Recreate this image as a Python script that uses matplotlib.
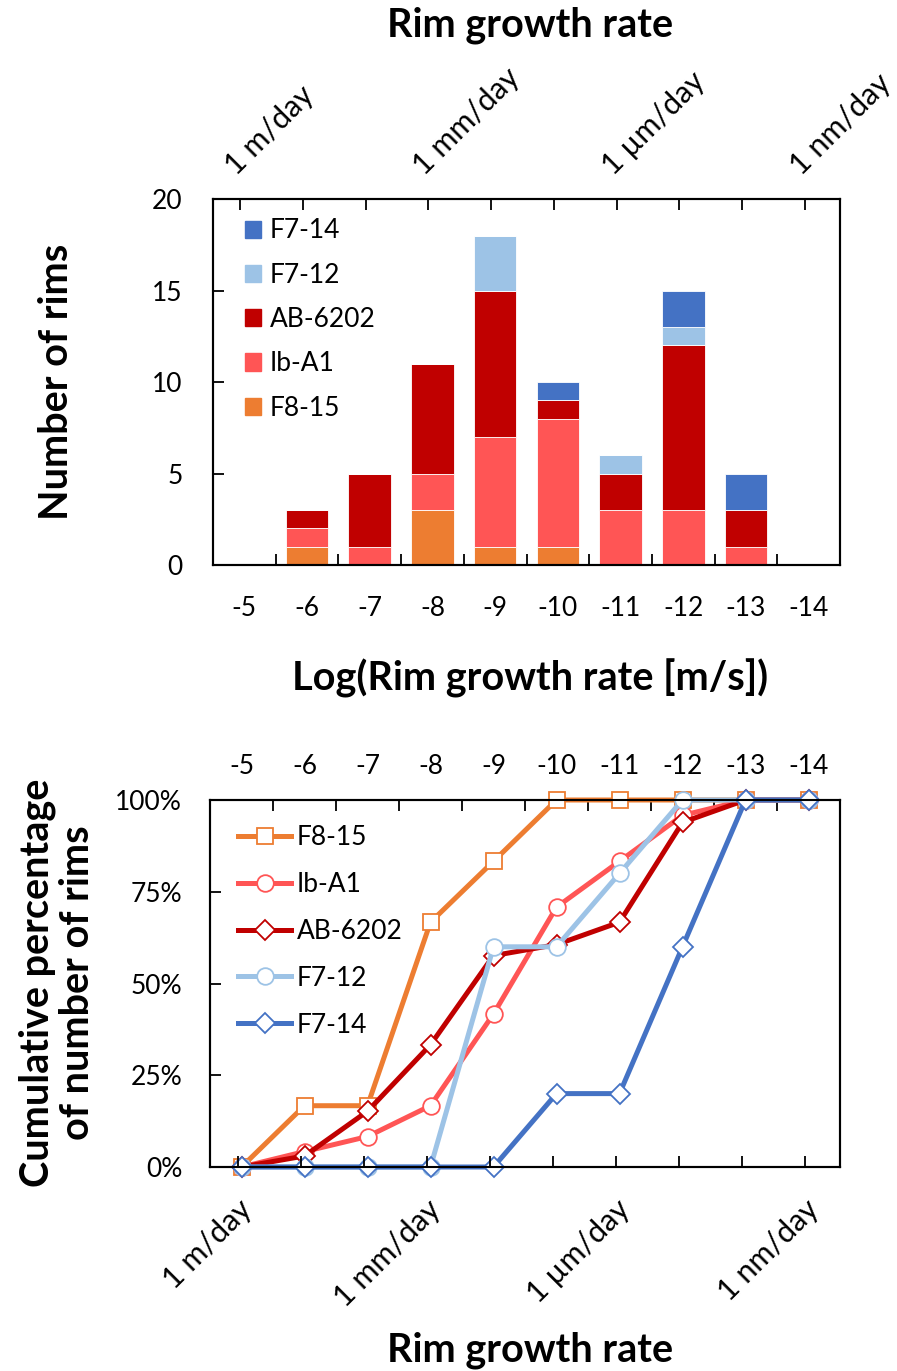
import numpy as np
import matplotlib
matplotlib.use('Agg')
from matplotlib import pyplot as plt
from matplotlib.patches import Patch

plt.rcParams['font.family'] = ['Lato', 'DejaVu Sans']

# categories: log10 of rim growth rate [m/s]
log_rates = ['-5', '-6', '-7', '-8', '-9', '-10', '-11', '-12', '-13', '-14']

# number of rims per bin, per sample (stacked bars)
f8_15 = [0, 1, 0, 3, 1, 1, 0, 0, 0, 0]
ib_a1 = [0, 1, 1, 2, 6, 7, 3, 3, 1, 0]
ab_6202 = [0, 1, 4, 6, 8, 1, 2, 9, 2, 0]
f7_12 = [0, 0, 0, 0, 3, 0, 1, 1, 0, 0]
f7_14 = [0, 0, 0, 0, 0, 1, 0, 2, 2, 0]

# cumulative percentage of number of rims
cum_f8_15 = [0, 16.7, 16.7, 66.7, 83.3, 100, 100, 100, 100, 100]
cum_ib_a1 = [0, 4.2, 8.3, 16.7, 41.7, 70.8, 83.3, 95.8, 100, 100]
cum_ab_6202 = [0, 3.0, 15.2, 33.3, 57.6, 60.6, 66.7, 93.9, 100, 100]
cum_f7_12 = [0, 0, 0, 0, 60, 60, 80, 100, 100, 100]
cum_f7_14 = [0, 0, 0, 0, 0, 20, 20, 60, 100, 100]

# secondary axis: speeds per day
rate_labels = ['1 m/day', '1 mm/day', '1 \u00b5m/day', '1 nm/day']
rate_m_per_day = [1.0, 1e-3, 1e-6, 1e-9]

c_f7_14 = '#4472C4'
c_f7_12 = '#9DC3E6'
c_ab = '#C00000'
c_ib = '#FF5555'
c_f8 = '#ED7D31'

fs = 19
rot_fs = 22
big = 28.5
W, H = 897, 1371
fig = plt.figure(figsize=(W / 100, H / 100), dpi=100)

x = np.arange(len(log_rates))
# category i <-> 10^-(5+i) m/s ; per-day rates placed on that scale, one tick per decade
sec_pos = [-5 - (np.log10(1.0 / 86400) - k) for k in range(10)]
sec_txt = [''] * 10
for v, lab in zip(rate_m_per_day, rate_labels):
    sec_txt[int(round(-np.log10(v)))] = lab


def box(ax):
    for s in ax.spines.values():
        s.set_linewidth(1.5)
        s.set_color('black')


# ---------------- top: stacked bars ----------------
ax = fig.add_axes([213 / W, 1 - 565 / H, 627 / W, 366 / H])
ax2 = ax.twiny()

bottom = np.zeros(len(x))
series = [(f8_15, c_f8, 'F8-15'), (ib_a1, c_ib, 'Ib-A1'), (ab_6202, c_ab, 'AB-6202'),
          (f7_12, c_f7_12, 'F7-12'), (f7_14, c_f7_14, 'F7-14')]
for vals, col, lab in series:
    ax.bar(x, vals, width=0.68, bottom=bottom, color=col, edgecolor='white', linewidth=0.6, label=lab)
    bottom += np.array(vals)
ax.set_xlim(-0.5, 9.5)
ax.set_ylim(0, 20)
ax.set_yticks([0, 5, 10, 15, 20])
ax.set_xticks(x)
ax.set_xticklabels(log_rates)
ax.set_xticks(x[:-1] + 0.5, minor=True)
ax.tick_params(axis='x', which='major', length=0, pad=22, labelsize=fs)
ax.tick_params(axis='x', which='minor', direction='in', length=8, width=1.3)
ax.tick_params(axis='y', direction='in', length=8, width=1.3, pad=22, labelsize=fs)
box(ax)

handles = [Patch(color=col) for _, col, _ in series][::-1]
labels = [lab for _, _, lab in series][::-1]
ax.legend(handles, labels, loc='upper left', frameon=False, fontsize=fs,
          handlelength=0.62, handleheight=0.62, handletextpad=0.35, labelspacing=0.73,
          bbox_to_anchor=(0.025, 0.99), borderaxespad=0.2)

ax2.set_xlim(ax.get_xlim())
ax2.set_xticks(sec_pos)
ax2.set_xticklabels(sec_txt)
ax2.tick_params(axis='x', direction='in', length=8, width=1.3, pad=14, labelsize=rot_fs)
for t in ax2.get_xticklabels():
    t.set_rotation(45)
    t.set_ha('left')
    t.set_va('bottom')
    t.set_rotation_mode('anchor')
box(ax2)

fig.text(530 / W, 1 - 25 / H, 'Rim growth rate', ha='center', va='center', fontsize=big, fontweight='bold')
fig.text(530 / W, 1 - 678 / H, 'Log(Rim growth rate [m/s])', ha='center', va='center', fontsize=big, fontweight='bold')
fig.text(57 / W, 1 - 382 / H, 'Number of rims', ha='center', va='center', rotation=90, fontsize=big, fontweight='bold')

# ---------------- bottom: cumulative lines ----------------
bx = fig.add_axes([210 / W, 1 - 1167 / H, 630 / W, 367 / H])
bx2 = bx.twiny()

lines = [(cum_f8_15, c_f8, 's', 'F8-15'), (cum_ib_a1, c_ib, 'o', 'Ib-A1'),
         (cum_ab_6202, c_ab, 'D', 'AB-6202'), (cum_f7_12, c_f7_12, 'o', 'F7-12'),
         (cum_f7_14, c_f7_14, 'D', 'F7-14')]
for vals, col, mk, lab in lines:
    ms = 12 if mk != 'D' else 10.5
    bx.plot(x, vals, color=col, lw=3.6, marker=mk, ms=ms, mfc='white', mec=col, mew=1.3,
            label=lab, clip_on=False, zorder=3)
bx.set_xlim(-0.5, 9.5)
bx.set_ylim(0, 100)
bx.set_yticks([0, 25, 50, 75, 100])
bx.set_yticklabels(['0%', '25%', '50%', '75%', '100%'])
bx.set_xticks(x)
bx.set_xticklabels(log_rates)
bx.set_xticks(x[:-1] + 0.5, minor=True)
bx.xaxis.tick_top()
bx.tick_params(axis='x', which='major', length=0, pad=15, labelsize=fs)
bx.tick_params(axis='x', which='minor', direction='in', length=8, width=1.3)
bx.tick_params(axis='y', direction='in', length=8, width=1.3, pad=20, labelsize=fs)
box(bx)
bx.legend(loc='upper left', frameon=False, fontsize=fs, handlelength=2.0, handletextpad=0.2,
          labelspacing=0.83, bbox_to_anchor=(0.02, 0.975), borderaxespad=0.2)

bx2.xaxis.tick_bottom()
bx2.set_xlim(bx.get_xlim())
bx2.set_xticks(sec_pos)
bx2.set_xticklabels(sec_txt)
bx2.tick_params(axis='x', direction='in', length=8, width=1.3, pad=20, labelsize=rot_fs)
for t in bx2.get_xticklabels():
    t.set_rotation(45)
    t.set_ha('right')
    t.set_va('top')
    t.set_rotation_mode('anchor')
box(bx2)

fig.text(530 / W, 1 - 1350 / H, 'Rim growth rate', ha='center', va='center', fontsize=big, fontweight='bold')
fig.text(57 / W, 1 - 983 / H, 'Cumulative percentage\nof number of rims', ha='center', va='center',
         rotation=90, fontsize=big, fontweight='bold', linespacing=1.1)

fig.savefig('out.png', dpi=100)
